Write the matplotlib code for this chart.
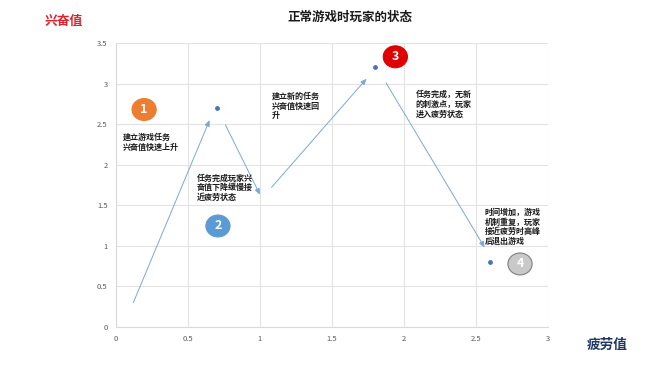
import matplotlib
matplotlib.use("Agg")
import matplotlib.pyplot as plt
from matplotlib.patches import Ellipse

plt.rcParams['font.family'] = ['Noto Sans CJK SC', 'DejaVu Sans']

# data
point_x = [0.7, 1.8, 2.6]
point_y = [2.7, 3.2, 0.8]

arrow_start_x = [0.12, 0.76, 1.08, 1.875]
arrow_start_y = [0.30, 2.49, 1.72, 3.01]
arrow_end_x = [0.65, 1.00, 1.74, 2.56]
arrow_end_y = [2.55, 1.63, 3.06, 0.98]

stage_labels = ["1", "2", "3", "4"]
stage_x = [0.195, 0.708, 1.94, 2.806]
stage_y = [2.68, 1.245, 3.33, 0.777]
stage_colors = ["#ED7D31", "#5B9BD5", "#E00000", "#C9C9C9"]

notes = ["建立游戏任务\n兴奋值快速上升",
         "任务完成玩家兴\n奋值下降缓慢接\n近疲劳状态",
         "建立新的任务\n兴奋值快速回\n升",
         "任务完成，无新\n的刺激点，玩家\n进入疲劳状态",
         "时间增加，游戏\n机制重复，玩家\n接近疲劳时高峰\n后退出游戏"]
note_x = [0.05, 0.56, 1.08, 2.08, 2.56]
note_y = [2.39, 1.89, 2.90, 2.92, 1.47]

x_ticks = [0, 0.5, 1, 1.5, 2, 2.5, 3]
y_ticks = [0, 0.5, 1, 1.5, 2, 2.5, 3, 3.5]

fig = plt.figure(figsize=(6.5, 3.69), dpi=100)
ax = fig.add_axes([0.1785, 0.1138, 0.843 - 0.1785, 0.8835 - 0.1138])
ax.set_xlim(0, 3)
ax.set_ylim(0, 3.5)
ax.set_xticks(x_ticks)
ax.set_yticks(y_ticks)
ax.set_xticklabels([f"{t:g}" for t in x_ticks])
ax.set_yticklabels([f"{t:g}" for t in y_ticks])
ax.grid(True, color="#E3E3E3", linewidth=0.8)
ax.set_axisbelow(True)
for s in ["top", "right"]:
    ax.spines[s].set_visible(False)
for s in ["left", "bottom"]:
    ax.spines[s].set_color("#D9D9D9")
    ax.spines[s].set_linewidth(0.8)
ax.tick_params(length=0, labelsize=5.5, colors="#595959", pad=6)

ax.scatter(point_x, point_y, s=6, color="#4472C4", zorder=3)

for x0, y0, x1, y1 in zip(arrow_start_x, arrow_start_y, arrow_end_x, arrow_end_y):
    ax.annotate("", xy=(x1, y1), xytext=(x0, y0),
                arrowprops=dict(arrowstyle="-|>,head_length=0.35,head_width=0.15",
                                color="#7AA7DC", lw=0.7, shrinkA=0, shrinkB=0))

for lab, x, y, c in zip(stage_labels, stage_x, stage_y, stage_colors):
    e = Ellipse((x, y), width=0.168, height=0.27, facecolor=c,
                edgecolor="#7F7F7F" if lab == "4" else c, linewidth=0.8, zorder=4)
    ax.add_patch(e)
    ax.text(x, y, lab, color="white", fontsize=9, fontweight="bold",
            ha="center", va="center", zorder=5)

for t, x, y in zip(notes, note_x, note_y):
    ax.text(x, y, t, fontsize=5.8, fontweight="bold", color="#1A1A1A",
            ha="left", va="top", linespacing=1.1, zorder=5)

fig.text(0.538, 0.952, "正常游戏时玩家的状态", fontsize=9, fontweight="bold",
         color="#1A1A1A", ha="center", va="center")
fig.text(0.098, 0.943, "兴奋值", fontsize=9.2, fontweight="bold",
         color="#E0202A", ha="center", va="center")
fig.text(0.934, 0.065, "疲劳值", fontsize=9.8, fontweight="bold",
         color="#1F3864", ha="center", va="center")

fig.savefig("out.png", dpi=100)
